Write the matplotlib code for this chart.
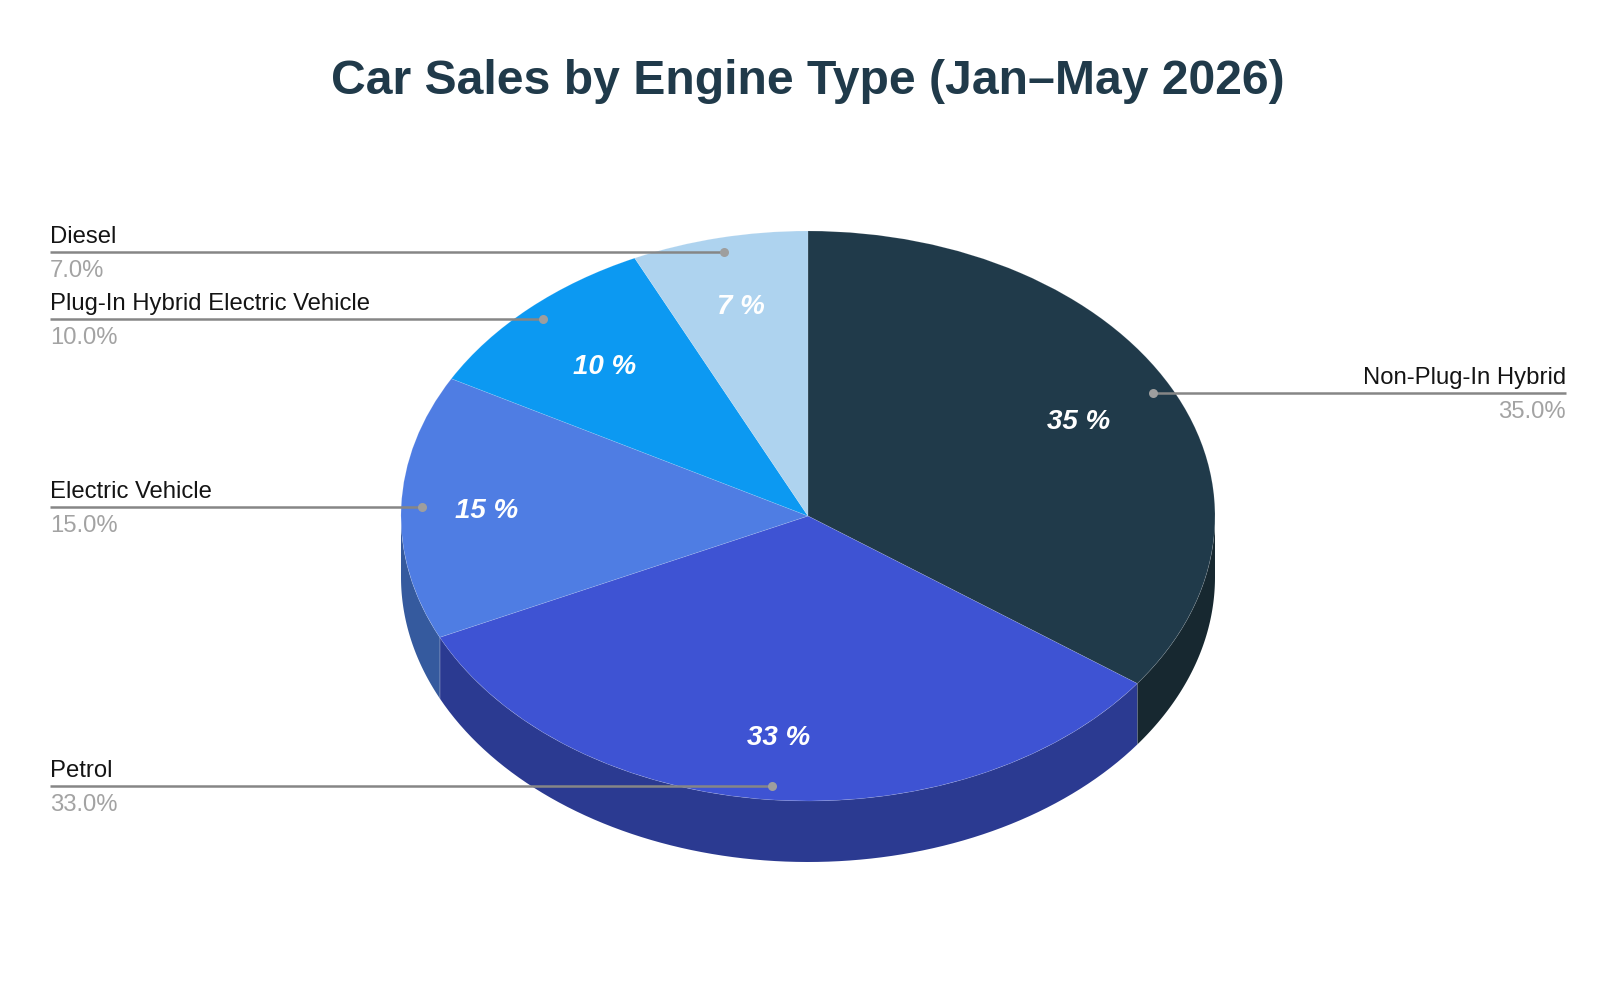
import numpy as np
import matplotlib
matplotlib.use("Agg")
import matplotlib.pyplot as plt

plt.rcParams["font.family"] = ["Liberation Sans", "DejaVu Sans"]

labels = ["Non-Plug-In Hybrid", "Petrol", "Electric Vehicle",
          "Plug-In Hybrid Electric Vehicle", "Diesel"]
values = [35, 33, 15, 10, 7]
top_colors = ["#203a4a", "#3e53d3", "#4f7de3", "#0c99f2", "#aed3ef"]
wall_colors = ["#172830", "#2b3a91", "#355a9e", "#0a6aa8", "#7a93a7"]
pct_radii = [0.745, 0.775, 0.79, 0.73, 0.76]
title = "Car Sales by Engine Type (Jan\u2013May 2026)"

W, H = 1616, 1004
CX, CY, RX, RY = 808, 517, 407, 285   # pie ellipse, in figure pixels
DEPTH = 61 / RY
LEFT_COL = (50 - CX) / RX
RIGHT_COL = (1566 - CX) / RX

fig, ax = plt.subplots(figsize=(W / 100, H / 100), dpi=100)
fig.subplots_adjust(0, 0, 1, 1)

# side wall first, the top pie is drawn over it
edges = 90 - 3.6 * np.cumsum([0] + values)
for i, color in enumerate(wall_colors):
    hi, lo = min(edges[i], 0), max(edges[i + 1], -180)
    if lo >= hi:
        continue
    t = np.radians(np.linspace(hi, lo, 80))
    xs = np.r_[np.cos(t), np.cos(t[::-1])]
    ys = np.r_[np.sin(t), np.sin(t[::-1]) - DEPTH]
    ax.fill(xs, ys, color=color, lw=0, zorder=1)
    if edges[i] < 0 and edges[i] > -180:
        x0, y0 = np.cos(np.radians(edges[i])), np.sin(np.radians(edges[i]))
        ax.plot([x0, x0], [y0, y0 - DEPTH], color="white", alpha=0.15, lw=0.6, zorder=2)

wedges, _, autotexts = ax.pie(
    values, colors=top_colors, startangle=90, counterclock=False,
    autopct=lambda p: f"{p:.0f} %",
    wedgeprops={"edgecolor": "#ffffff28", "linewidth": 0.5, "zorder": 3},
    textprops={"color": "white", "fontsize": 20, "fontweight": "bold", "fontstyle": "italic"},
)

ax.set_aspect("auto")
ax.set_xlim(-CX / RX, (W - CX) / RX)
ax.set_ylim((CY - H) / RY, CY / RY)

# leader lines with name above and share below
mids = np.radians(90 - 3.6 * (np.cumsum([0] + values[:-1]) + np.array(values) / 2))
for t, r, a in zip(autotexts, pct_radii, mids):
    t.set_position((r * np.cos(a), r * np.sin(a) - 1.5 / RY))
    t.set_zorder(6)

for name, val, a in zip(labels, values, mids):
    ax_x, ax_y = 0.95 * np.cos(a), 0.95 * np.sin(a)
    right = np.cos(a) > 0 and val > 20
    col = RIGHT_COL if right else LEFT_COL
    ha = "right" if right else "left"
    ax.plot([col, ax_x], [ax_y, ax_y], color="#868686", lw=1.8, zorder=4,
            solid_capstyle="butt")
    ax.plot(ax_x, ax_y, "o", color="#9e9e9e", ms=6.5, mew=0, zorder=5)
    ax.text(col, ax_y + 5 / RY, name, ha=ha, va="bottom", fontsize=17.2, color="#141414")
    ax.text(col, ax_y - 7 / RY, f"{val:.1f}%", ha=ha, va="top", fontsize=17.2, color="#a3a3a3")

fig.text(0.5, 1 - 82 / H, title, ha="center", va="center", fontsize=34.7,
         fontweight="bold", color="#203a4a")

fig.savefig("out.png", dpi=100, facecolor="white")
